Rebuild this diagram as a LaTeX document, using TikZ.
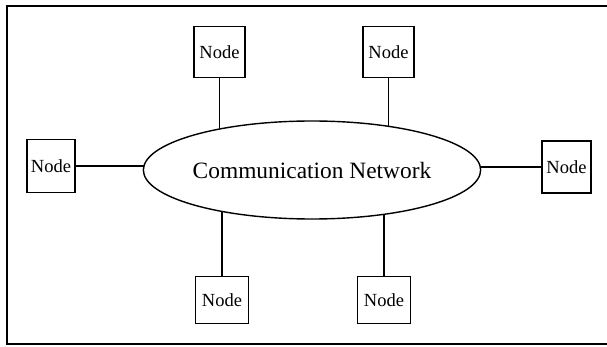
\documentclass[tikz,border=0pt]{standalone}
\usepackage{fontspec}
\setmainfont{Liberation Serif}
\usetikzlibrary{shapes.geometric,backgrounds}
\begin{document}
\begin{tikzpicture}[x=1pt,y=-1pt,
  nodebox/.style={draw,line width=1.5pt,minimum width=50pt,minimum height=50pt,inner sep=0pt,fill=white,font=\fontsize{18.5}{20}\selectfont},
  link/.style={line width=1.2pt},
  netshape/.style={draw,ellipse,line width=1.4pt,fill=white,minimum width=332pt,minimum height=98pt,inner sep=0pt,font=\fontsize{23.4}{26}\selectfont}]
\useasboundingbox (0,0) rectangle (607,347);
\node[netshape] (net) at (312,170) {Communication Network};
\node[nodebox,minimum width=51pt,minimum height=51pt] (tl) at (219.5,52) {Node};
\node[nodebox,minimum width=51pt,minimum height=51pt] (tr) at (388.5,52) {Node};
\node[nodebox,minimum width=48pt,minimum height=53pt] (lft) at (51,166) {Node};
\node[nodebox,minimum width=49pt,minimum height=52pt] (rgt) at (566.5,167) {Node};
\node[nodebox,minimum width=53pt,minimum height=47pt] (bl) at (222,300) {Node};
\node[nodebox,minimum width=53pt,minimum height=47pt] (br) at (384,300) {Node};
\begin{pgfonlayer}{background}
\draw[line width=1.2pt] (607,6) -- (7,6) -- (7,344) -- (607,344);
\draw[link] (tl.south) -- (tl.south |- net.center);
\draw[link] (tr.south) -- (tr.south |- net.center);
\draw[link] (bl.north) -- (bl.north |- net.center);
\draw[link] (br.north) -- (br.north |- net.center);
\draw[link] (lft.east) -- (lft.east -| net.center);
\draw[link] (rgt.west) -- (rgt.west -| net.center);
\end{pgfonlayer}
\end{tikzpicture}
\end{document}
